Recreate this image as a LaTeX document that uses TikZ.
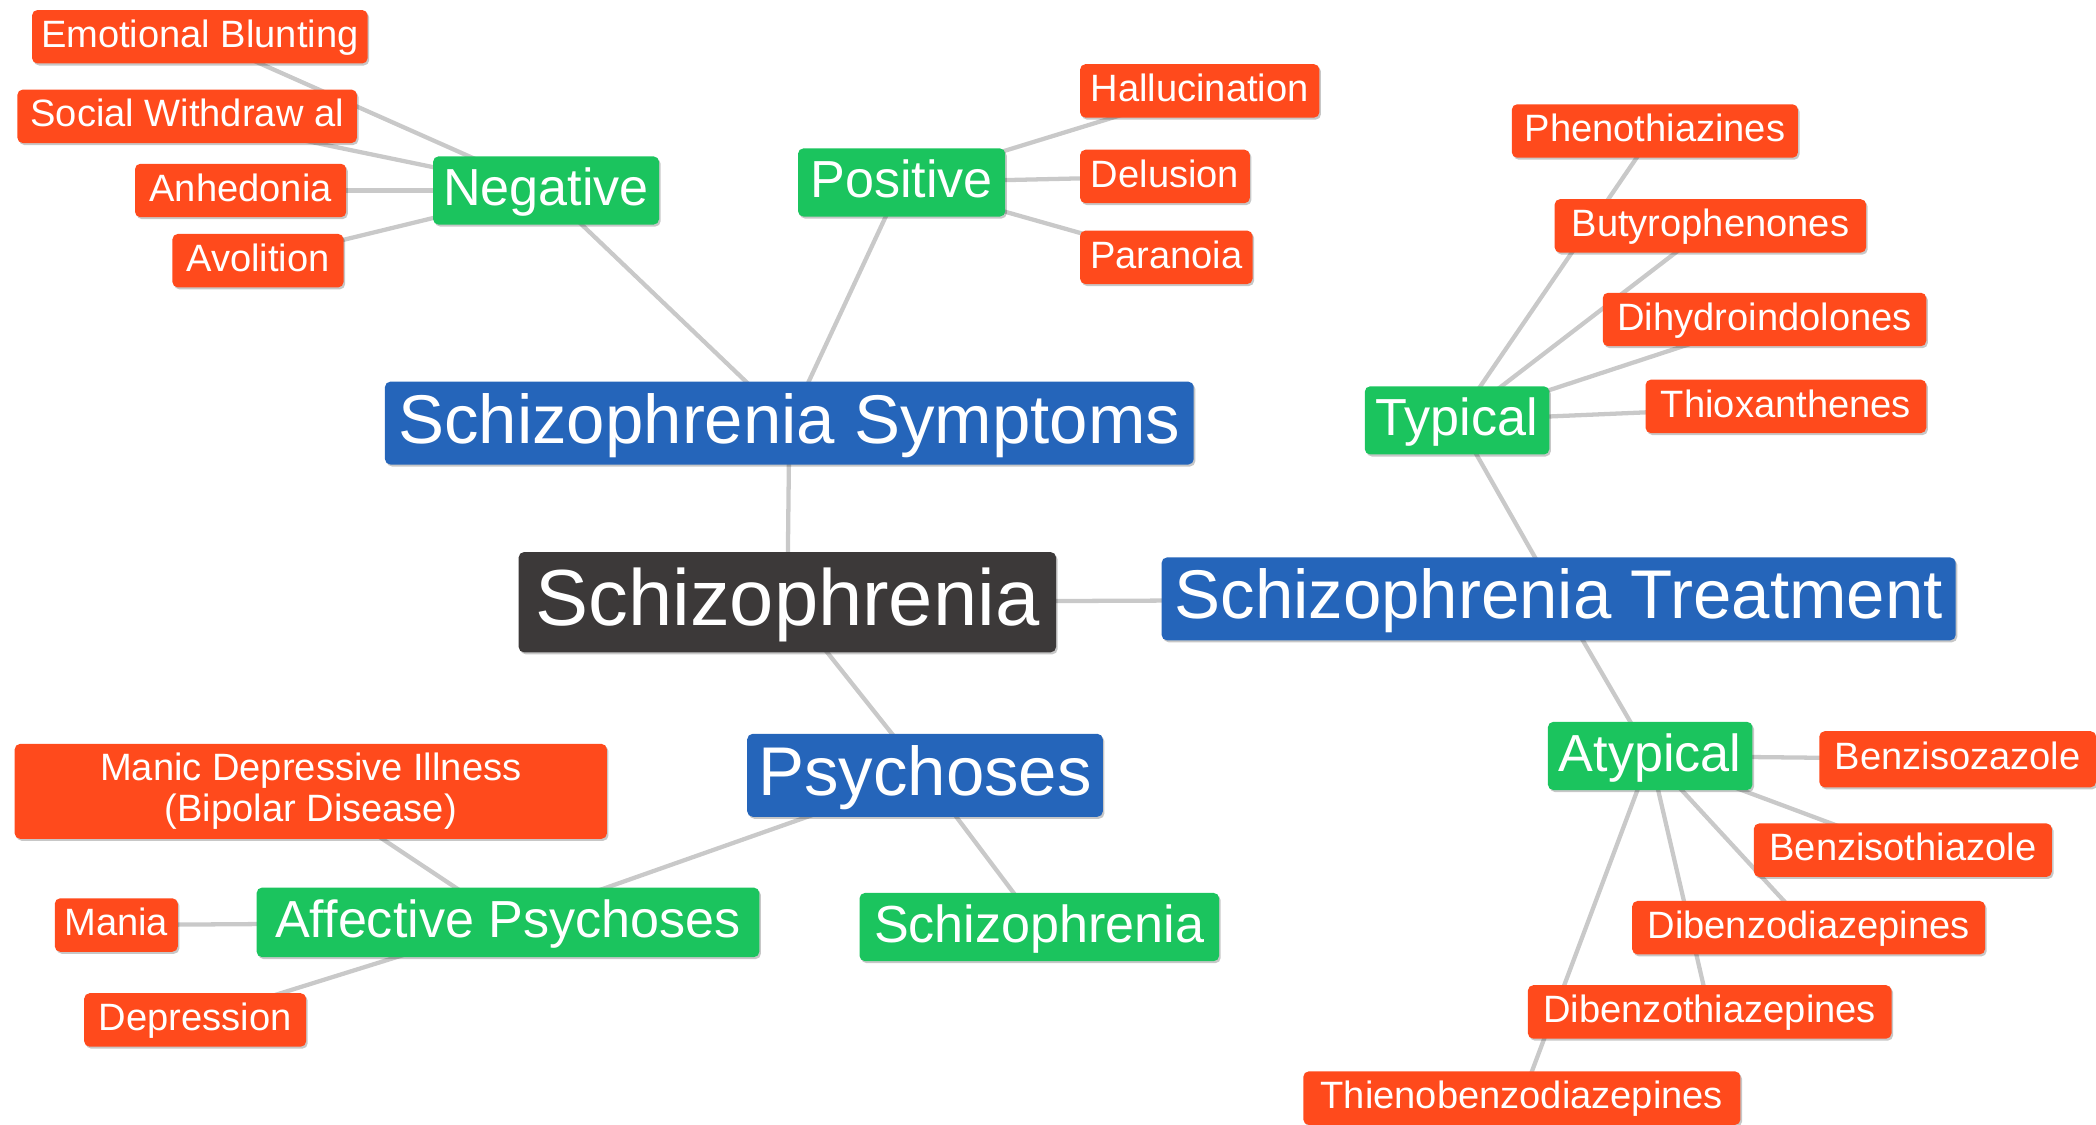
\documentclass[tikz,border=0pt]{standalone}
\usepackage{fontspec}
\setmainfont{Liberation Sans}
\usetikzlibrary{shadows,backgrounds}
\definecolor{leafc}{HTML}{FF4A1C}
\definecolor{greenc}{HTML}{1BC45E}
\definecolor{bluec}{HTML}{2565BA}
\definecolor{darkc}{HTML}{3C3939}
\definecolor{edgec}{HTML}{C9C9C9}
\tikzset{
  box/.style={rectangle, rounded corners=4pt, inner sep=0pt, text=white,
    drop shadow={shadow xshift=1.2pt, shadow yshift=-1.5pt, opacity=0.22, fill=black}},
  leaf/.style={box, fill=leafc, font=\fontsize{28.5}{31}\selectfont,
    minimum height=40pt, text height=21pt, text depth=5pt},
  sub/.style={box, fill=greenc, font=\fontsize{39}{42}\selectfont,
    minimum height=51pt, text height=29.5pt, text depth=6.5pt},
  topic/.style={box, fill=bluec, font=\fontsize{51.6}{55}\selectfont,
    minimum height=62pt, text height=39pt, text depth=9pt},
  core/.style={box, fill=darkc, font=\fontsize{59.5}{63}\selectfont,
    minimum height=75pt, text height=45pt, text depth=10pt},
  edge/.style={draw=edgec, line width=3.2pt}
}
\begin{document}
\begin{tikzpicture}[x=1pt,y=-1pt]
\useasboundingbox (0,0) rectangle (1568,841);
% central
\node[core, minimum width=402pt] (root) at (589,450.5) {Schizophrenia};
\node[topic, minimum width=605pt] (symp) at (590.5,316.5) {Schizophrenia Symptoms};
\node[topic, minimum width=594pt] (treat) at (1166,448) {Schizophrenia Treatment};
\node[topic, minimum width=266pt] (psy) at (692,580) {Psychoses};
% symptoms
\node[sub, minimum width=169pt] (neg) at (408.5,142.5) {Negative};
\node[sub, minimum width=155pt] (pos) at (674.5,136.5) {Positive};
\node[leaf, minimum width=251pt] (eb) at (149.5,27.5) {Emotional Blunting};
\node[leaf, minimum width=254pt] (sw) at (140,87) {Social Withdraw al};
\node[leaf, minimum width=158pt] (anh) at (180,142.5) {Anhedonia};
\node[leaf, minimum width=128pt] (avo) at (193,195) {Avolition};
\node[leaf, minimum width=179pt] (hal) at (897.5,68) {Hallucination};
\node[leaf, minimum width=127pt] (del) at (871.5,132) {Delusion};
\node[leaf, minimum width=129pt] (par) at (872.5,192.5) {Paranoia};
% treatment
\node[sub, minimum width=138pt] (typ) at (1090,314.5) {Typical};
\node[sub, minimum width=153pt] (atyp) at (1234.5,565.5) {Atypical};
\node[leaf, minimum width=214pt] (phen) at (1238,98) {Phenothiazines};
\node[leaf, minimum width=233pt] (buty) at (1279.5,169) {Butyrophenones};
\node[leaf, minimum width=242pt] (dihy) at (1320,239) {Dihydroindolones};
\node[leaf, minimum width=210pt] (thiox) at (1336,304) {Thioxanthenes};
\node[leaf, minimum width=207pt, minimum height=42pt] (bzx) at (1464.5,568) {Benzisozazole};
\node[leaf, minimum width=223pt] (bzt) at (1423.5,636) {Benzisothiazole};
\node[leaf, minimum width=264pt] (dbd) at (1353,694) {Dibenzodiazepines};
\node[leaf, minimum width=272pt] (dbt) at (1279,757) {Dibenzothiazepines};
\node[leaf, minimum width=327pt] (thieno) at (1138.5,821.5) {Thienobenzodiazepines};
% psychoses
\node[sub, minimum width=376pt, minimum height=52pt] (aff) at (380,690) {Affective Psychoses};
\node[sub, minimum width=269pt] (sch) at (777.5,693.5) {Schizophrenia};
\node[box, fill=leafc, font=\fontsize{28.5}{31}\selectfont, align=center,
  minimum width=443pt, minimum height=71pt] (manic) at (232.5,592)
  {Manic Depressive Illness\\(Bipolar Disease)};
\node[leaf, minimum width=92pt] (mania) at (87,692) {Mania};
\node[leaf, minimum width=166pt] (dep) at (146,763) {Depression};
% connectors
\begin{scope}[on background layer]
\draw[edge] (root.center) -- (symp.center);
\draw[edge] (root.center) -- (treat.center);
\draw[edge] (root.center) -- (psy.center);
\draw[edge] (symp.center) -- (neg.center);
\draw[edge] (symp.center) -- (pos.center);
\draw[edge] (neg.center) -- (eb.center);
\draw[edge] (neg.center) -- (sw.center);
\draw[edge] (neg.center) -- (anh.center);
\draw[edge] (neg.center) -- (avo.center);
\draw[edge] (pos.center) -- (hal.center);
\draw[edge] (pos.center) -- (del.center);
\draw[edge] (pos.center) -- (par.center);
\draw[edge] (treat.center) -- (typ.center);
\draw[edge] (treat.center) -- (atyp.center);
\draw[edge] (typ.center) -- (phen.center);
\draw[edge] (typ.center) -- (buty.center);
\draw[edge] (typ.center) -- (dihy.center);
\draw[edge] (typ.center) -- (thiox.center);
\draw[edge] (atyp.center) -- (bzx.center);
\draw[edge] (atyp.center) -- (bzt.center);
\draw[edge] (atyp.center) -- (dbd.center);
\draw[edge] (atyp.center) -- (dbt.center);
\draw[edge] (atyp.center) -- (thieno.center);
\draw[edge] (psy.center) -- (aff.center);
\draw[edge] (psy.center) -- (sch.center);
\draw[edge] (aff.center) -- (manic.center);
\draw[edge] (aff.center) -- (mania.center);
\draw[edge] (aff.center) -- (dep.center);
\end{scope}
\end{tikzpicture}
\end{document}
